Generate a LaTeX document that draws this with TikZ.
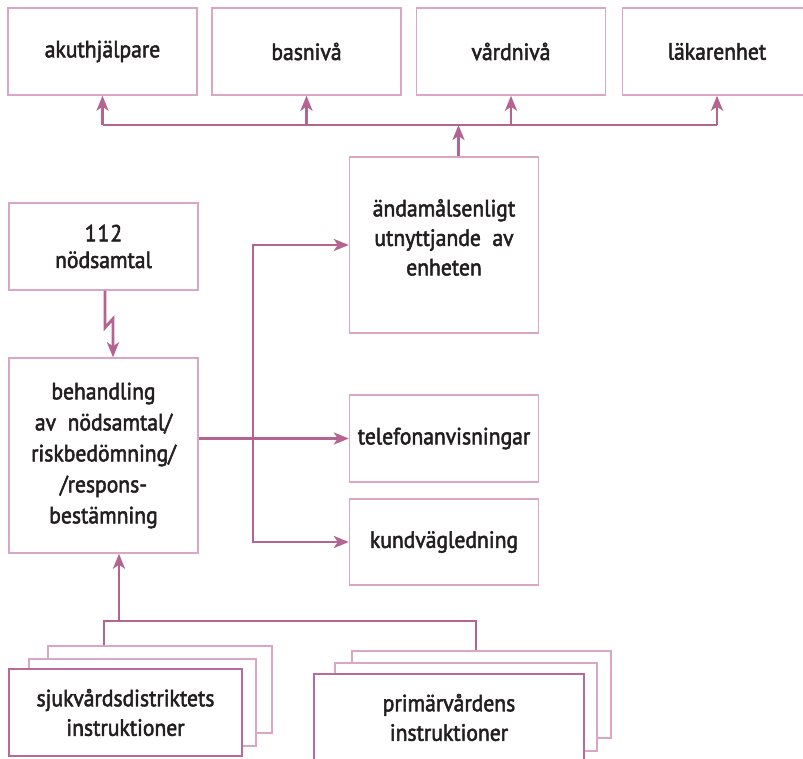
\documentclass[tikz,border=0pt]{standalone}
\usepackage{fontspec}
\setmainfont[FakeBold=2.2,FakeStretch=0.92]{PT Sans}
\usetikzlibrary{arrows.meta}
\definecolor{conncol}{RGB}{180,100,145}
\definecolor{boxcol}{RGB}{218,166,198}
\definecolor{frontcol}{RGB}{186,106,152}
\definecolor{txtcol}{RGB}{35,31,32}
\begin{document}
\begin{tikzpicture}[x=1pt,y=-1pt,
  box/.style={draw=boxcol,line width=1.4pt,fill=white,inner sep=0pt,align=center,
    text=txtcol,font=\fontsize{23.5}{29.5}\selectfont},
  frontbox/.style={box,draw=frontcol,line width=2pt},
  conn/.style={draw=conncol,line width=2.8pt},
  tip/.tip={Stealth[length=15pt,width=12pt,inset=4pt]},
  arr/.style={conn,-tip}
]
\useasboundingbox (0,0) rectangle (803,758);

% top row
\node[box,minimum width=189pt,minimum height=87pt] (a1) at (102.5,51.5) {akuthjälpare};
\node[box,minimum width=189pt,minimum height=87pt] (a2) at (306.5,51.5) {basnivå};
\node[box,minimum width=189pt,minimum height=87pt] (a3) at (511,51.5) {vårdnivå};
\node[box,minimum width=189pt,minimum height=87pt] (a4) at (717,51.5) {läkarenhet};

% middle
\node[box,minimum width=189pt,minimum height=176pt] (u) at (444,245) {ändamålsenligt\\utnyttjande\ \ av\\enheten\\[-14pt]};
\node[box,minimum width=189pt,minimum height=87pt] (n112) at (103.5,246.5) {1\kern1pt1\kern1pt2\\[-3pt]nödsamtal};
\node[box,minimum width=189pt,minimum height=195pt,font=\fontsize{23.5}{31}\selectfont] (beh) at (103.5,455.5) {behandling\\av\ \ nödsamtal/\\riskbedömning/\\/respons-\\bestämning};
\node[box,minimum width=189pt,minimum height=87pt] (tel) at (444,438.5) {telefonanvisningar};
\node[box,minimum width=189pt,minimum height=86pt] (kund) at (444,542) {kundvägledning};

% stacks
\node[box,minimum width=224pt,minimum height=87pt] (lb) at (160,689.5) {};
\node[box,minimum width=227pt,minimum height=87pt] (lm) at (142.5,702.5) {};
\node[frontbox,minimum width=233pt,minimum height=87pt] (lf) at (125.5,712.5) {sjukvårdsdistriktets\\instruktioner};
\node[box,minimum width=259pt,minimum height=87pt] (rb) at (481.5,694.5) {};
\node[box,minimum width=262pt,minimum height=88pt] (rm) at (466,707) {};
\node[frontbox,minimum width=270pt,minimum height=87pt] (rf) at (449,717.5) {primärvårdens\\instruktioner};

% top bus
\coordinate (bus) at (0,125);
\draw[conn] (a1.south |- bus) -- (a4.south |- bus);
\draw[arr] (a1.south |- bus) -- (a1.south);
\draw[arr] (a2.south |- bus) -- (a2.south);
\draw[arr] (a3.south |- bus) -- (a3.south);
\draw[arr] (a4.south |- bus) -- (a4.south);
\draw[arr] ([xshift=14.5pt]u.north) -- ([xshift=14.5pt]u.north |- bus);

% branching to right boxes
\coordinate (sp) at (253,0);
\draw[conn,tip-tip,line join=miter] (u.west) -- (sp |- u.west) -- (sp |- kund.west) -- (kund.west);
\draw[arr] (beh.east |- tel.west) -- (tel.west);

% lightning
\draw[arr,line join=miter] ([xshift=1.5pt]n112.south) -- ([xshift=1.5pt,yshift=-37pt]n112.south)
  -- ([xshift=9.5pt,yshift=-28pt]n112.south) -- ([xshift=9.5pt]beh.north);

% bottom bus
\coordinate (bb) at (0,621);
\draw[conn,line join=miter] ([xshift=-56pt]lb.north) -- ([xshift=-56pt]lb.north |- bb)
  -- ([xshift=-5.5pt]rb.north |- bb) -- ([xshift=-5.5pt]rb.north);
\draw[arr] ([xshift=15.5pt]beh.south |- bb) -- ([xshift=15.5pt]beh.south);
\end{tikzpicture}
\end{document}
